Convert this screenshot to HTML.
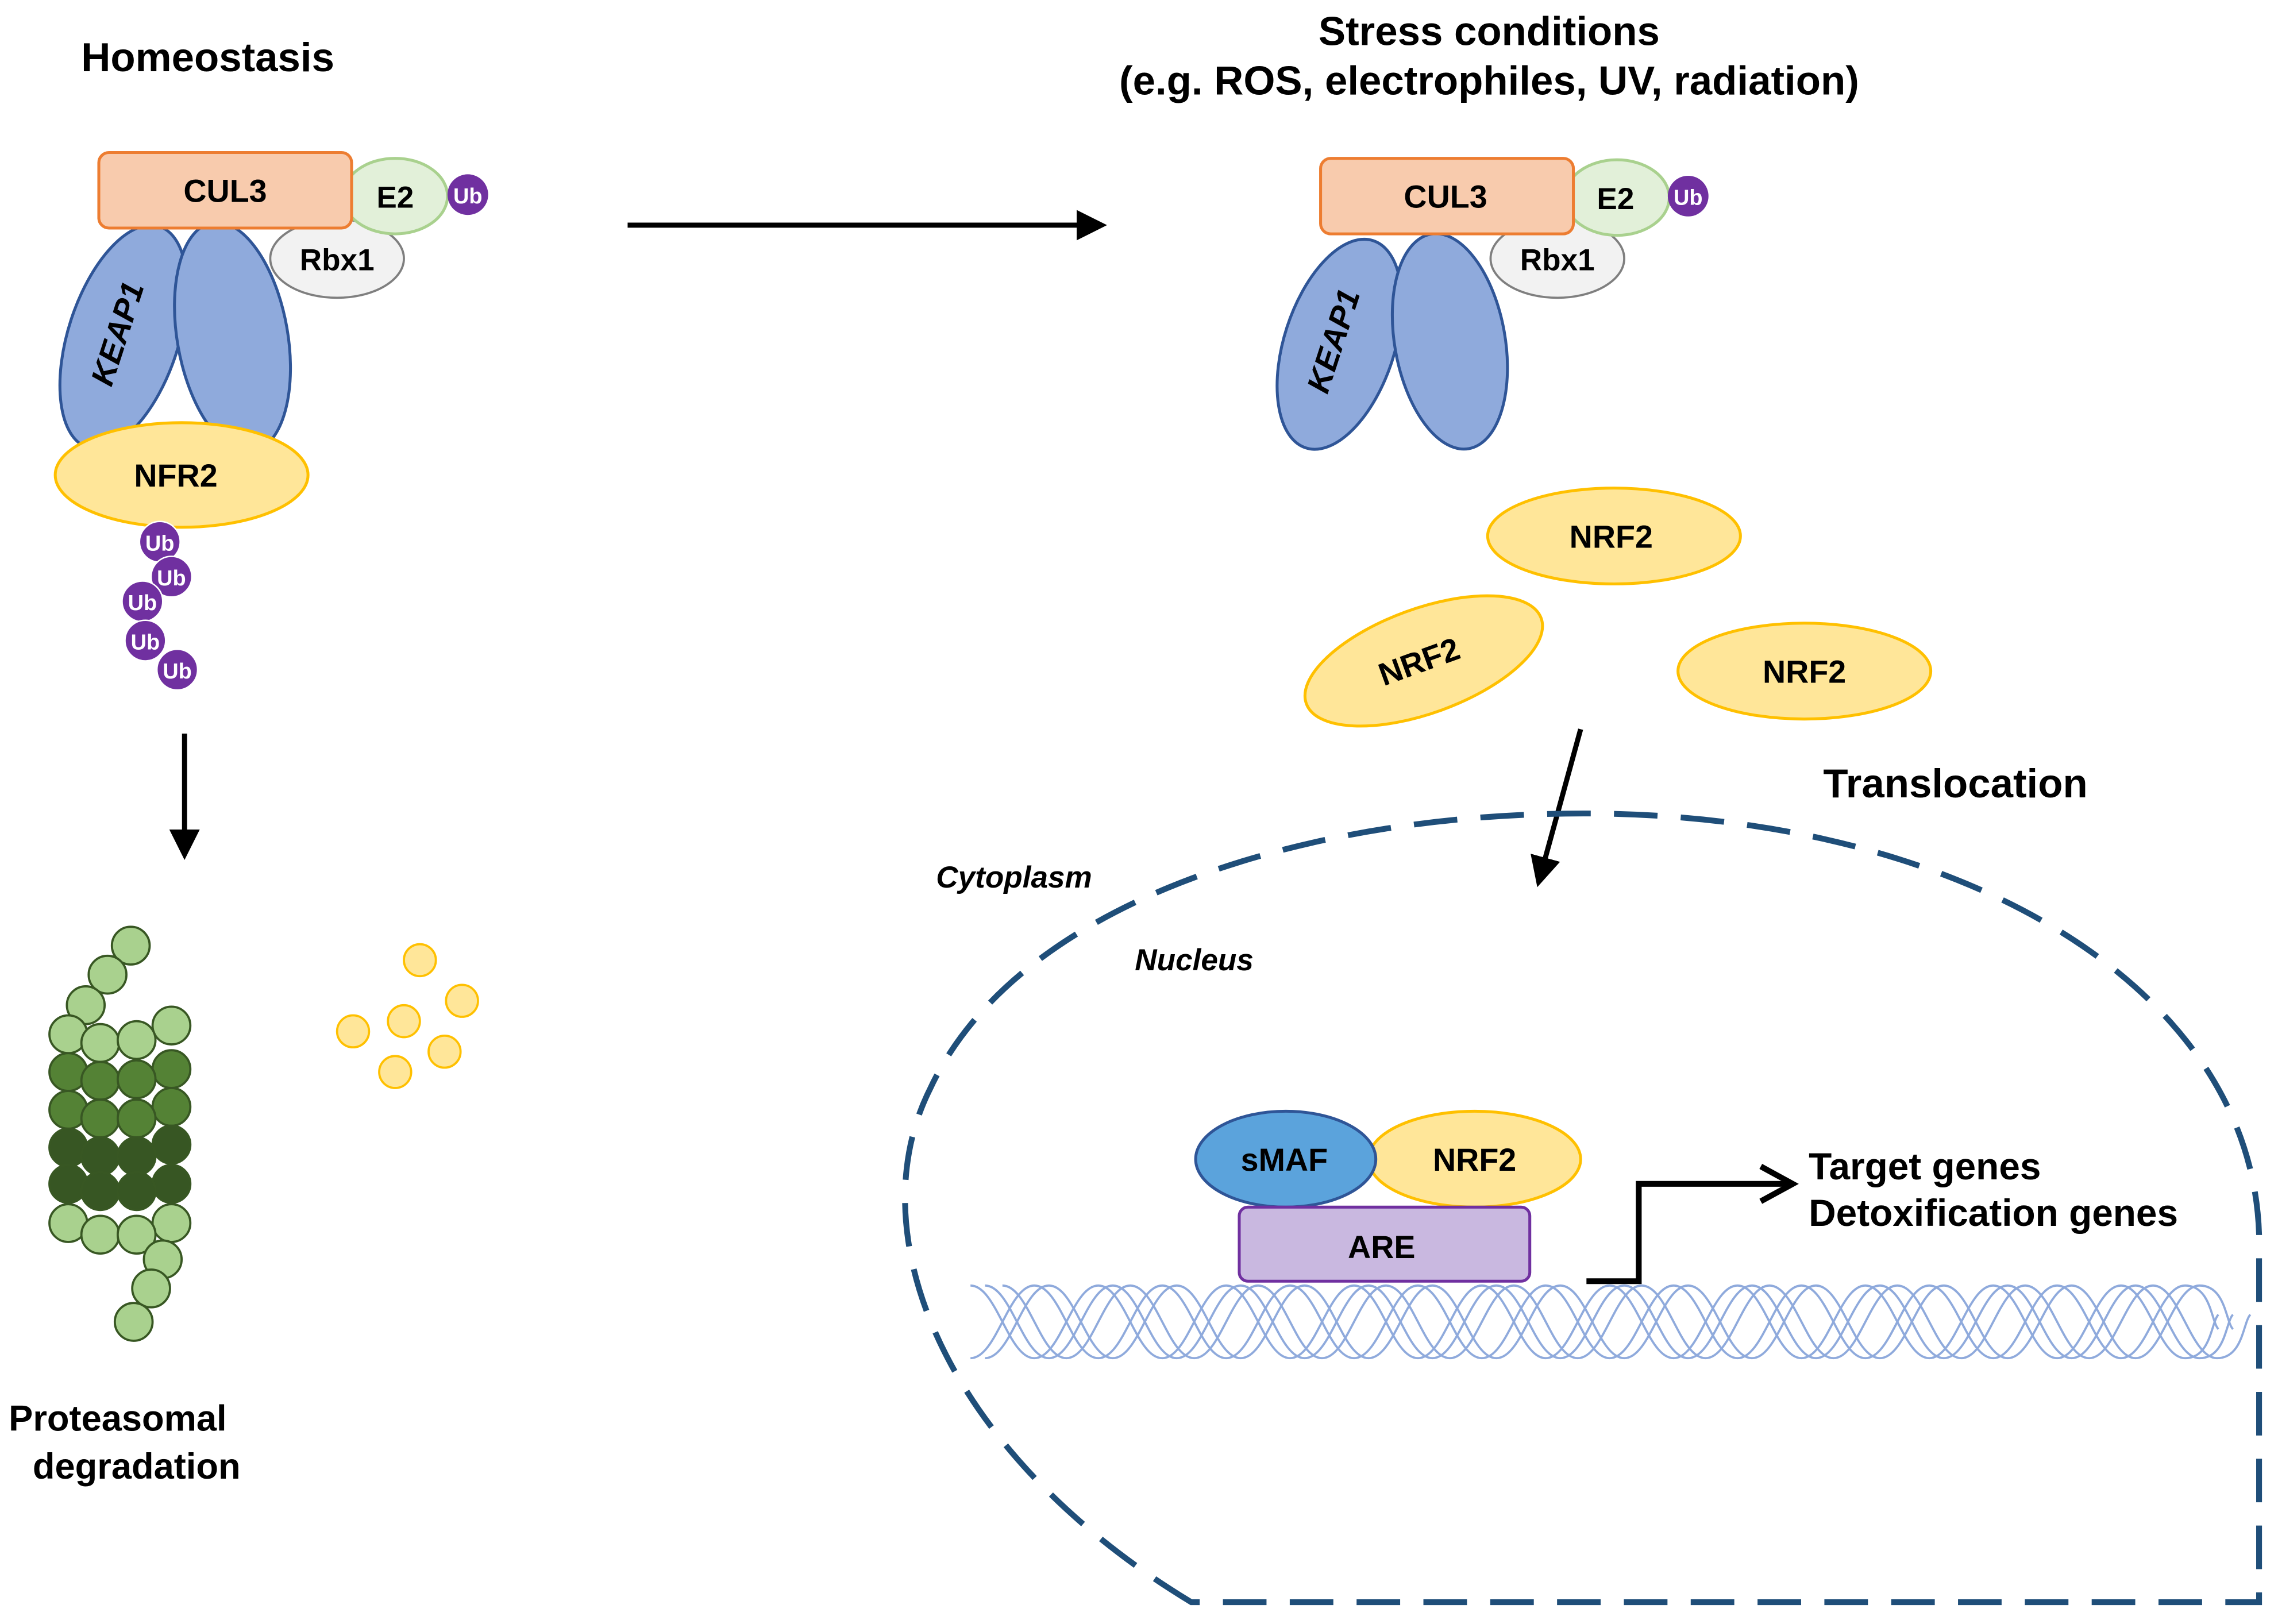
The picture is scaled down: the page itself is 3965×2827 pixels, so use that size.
<!DOCTYPE html>
<html><head><meta charset="utf-8"><style>
html,body{margin:0;padding:0;background:#fff;overflow:hidden;}
svg{display:block;}
text{font-family:"Liberation Sans",Arial,sans-serif;font-weight:bold;fill:#000;}
</style></head><body>
<svg width="3965" height="2827" viewBox="0 0 1568 1118" xmlns="http://www.w3.org/2000/svg">
<defs>
<marker id="ah" markerWidth="6" markerHeight="6" refX="4" refY="3" orient="auto" markerUnits="strokeWidth"><path d="M0,0 L6,3 L0,6 Z" fill="#000"/></marker>
<path id="strand" d="M668 885 C686 885 694 935 712 935 S738 885 756 885 S782 935 800 935 S826 885 844 885 S870 935 888 935 S914 885 932 885 S958 935 976 935 S1002 885 1020 885 S1046 935 1064 935 S1090 885 1108 885 S1134 935 1152 935 S1178 885 1196 885 S1222 935 1240 935 S1266 885 1284 885 S1310 935 1328 935 S1354 885 1372 885 S1398 935 1416 935 S1442 885 1460 885 S1486 935 1504 935 S1522 910 1527 905" fill="none" stroke="#8faadc" stroke-width="1.5"/>
</defs>
<text x="143" y="49" font-size="28" text-anchor="middle">Homeostasis</text>
<!-- left complex -->
<ellipse cx="85" cy="232" rx="38" ry="80" transform="rotate(18 85 232)" fill="#8faadc" stroke="#2f5597" stroke-width="2"/>
<ellipse cx="160" cy="232" rx="38" ry="80" transform="rotate(-10 160 232)" fill="#8faadc" stroke="#2f5597" stroke-width="2"/>
<text x="88" y="232" font-size="22" font-style="italic" text-anchor="middle" transform="rotate(-72 88 232)">KEAP1</text>
<ellipse cx="232" cy="178" rx="46" ry="27" fill="#f2f2f2" stroke="#7f7f7f" stroke-width="1.5"/>
<text x="232" y="186" font-size="21" text-anchor="middle">Rbx1</text>
<ellipse cx="272" cy="135" rx="36" ry="26" fill="#e2f0d9" stroke="#a9d18e" stroke-width="2"/>
<text x="272" y="143" font-size="21" text-anchor="middle">E2</text>
<rect x="68" y="105" width="174" height="52" rx="7" fill="#f8cbad" stroke="#ed7d31" stroke-width="2"/>
<text x="155" y="139" font-size="22" text-anchor="middle">CUL3</text>
<circle cx="322" cy="134" r="14" fill="#7030a0"/><text x="322" y="140" font-size="15" text-anchor="middle" style="fill:#fff">Ub</text>
<ellipse cx="125" cy="327" rx="87" ry="36" fill="#ffe699" stroke="#ffc000" stroke-width="2"/>
<text x="121" y="335" font-size="22" text-anchor="middle">NFR2</text>
<g font-size="15" text-anchor="middle">
<circle cx="110" cy="373" r="14" fill="#7030a0" stroke="#fff"/><text x="110" y="379" style="fill:#fff">Ub</text>
<circle cx="118" cy="397" r="14" fill="#7030a0" stroke="#fff"/><text x="118" y="403" style="fill:#fff">Ub</text>
<circle cx="98" cy="414" r="14" fill="#7030a0" stroke="#fff"/><text x="98" y="420" style="fill:#fff">Ub</text>
<circle cx="100" cy="441" r="14" fill="#7030a0" stroke="#fff"/><text x="100" y="447" style="fill:#fff">Ub</text>
<circle cx="122" cy="461" r="14" fill="#7030a0" stroke="#fff"/><text x="122" y="467" style="fill:#fff">Ub</text>
</g>
<line x1="127" y1="505" x2="127" y2="585" stroke="#000" stroke-width="3.5" marker-end="url(#ah)"/>
<!-- proteasome -->
<g stroke="#385723" stroke-width="1.5">
<circle cx="90" cy="651" r="13" fill="#a9d18e"/><circle cx="74" cy="671" r="13" fill="#a9d18e"/><circle cx="59" cy="692" r="13" fill="#a9d18e"/>
<circle cx="47" cy="712" r="13" fill="#a9d18e"/><circle cx="118" cy="706" r="13" fill="#a9d18e"/><circle cx="69" cy="718" r="13" fill="#a9d18e"/><circle cx="94" cy="716" r="13" fill="#a9d18e"/>
<circle cx="47" cy="738" r="13" fill="#548235"/><circle cx="118" cy="736" r="13" fill="#548235"/><circle cx="69" cy="744" r="13" fill="#548235"/><circle cx="94" cy="743" r="13" fill="#548235"/>
<circle cx="47" cy="764" r="13" fill="#548235"/><circle cx="118" cy="762" r="13" fill="#548235"/><circle cx="69" cy="770" r="13" fill="#548235"/><circle cx="94" cy="770" r="13" fill="#548235"/>
<circle cx="47" cy="790" r="13" fill="#375623"/><circle cx="118" cy="788" r="13" fill="#375623"/><circle cx="69" cy="796" r="13" fill="#375623"/><circle cx="94" cy="796" r="13" fill="#375623"/>
<circle cx="47" cy="815" r="13" fill="#375623"/><circle cx="118" cy="815" r="13" fill="#375623"/><circle cx="69" cy="820" r="13" fill="#375623"/><circle cx="94" cy="820" r="13" fill="#375623"/>
<circle cx="47" cy="842" r="13" fill="#a9d18e"/><circle cx="118" cy="842" r="13" fill="#a9d18e"/><circle cx="69" cy="850" r="13" fill="#a9d18e"/><circle cx="94" cy="850" r="13" fill="#a9d18e"/>
<circle cx="112" cy="867" r="13" fill="#a9d18e"/><circle cx="104" cy="887" r="13" fill="#a9d18e"/><circle cx="92" cy="910" r="13" fill="#a9d18e"/>
</g>
<g fill="#ffe699" stroke="#ffc000" stroke-width="1.5">
<circle cx="289" cy="661" r="11"/><circle cx="318" cy="689" r="11"/><circle cx="243" cy="710" r="11"/><circle cx="278" cy="703" r="11"/><circle cx="306" cy="724" r="11"/><circle cx="272" cy="738" r="11"/>
</g>
<text x="81" y="985" font-size="25" text-anchor="middle">Proteasomal</text>
<text x="94" y="1018" font-size="25" text-anchor="middle">degradation</text>
<line x1="432" y1="155" x2="755" y2="155" stroke="#000" stroke-width="3.5" marker-end="url(#ah)"/>
<text x="1025" y="31" font-size="28" text-anchor="middle">Stress conditions</text>
<text x="1025" y="65" font-size="28" text-anchor="middle">(e.g. ROS, electrophiles, UV, radiation)</text>
<!-- right complex -->
<ellipse cx="922" cy="237" rx="38" ry="75" transform="rotate(18 922 237)" fill="#8faadc" stroke="#2f5597" stroke-width="2"/>
<ellipse cx="998" cy="235" rx="38" ry="75" transform="rotate(-10 998 235)" fill="#8faadc" stroke="#2f5597" stroke-width="2"/>
<text x="925" y="237" font-size="22" font-style="italic" text-anchor="middle" transform="rotate(-72 925 237)">KEAP1</text>
<ellipse cx="1072" cy="178" rx="46" ry="27" fill="#f2f2f2" stroke="#7f7f7f" stroke-width="1.5"/>
<text x="1072" y="186" font-size="21" text-anchor="middle">Rbx1</text>
<ellipse cx="1113" cy="136" rx="36" ry="26" fill="#e2f0d9" stroke="#a9d18e" stroke-width="2"/>
<text x="1112" y="144" font-size="21" text-anchor="middle">E2</text>
<rect x="909" y="109" width="174" height="52" rx="7" fill="#f8cbad" stroke="#ed7d31" stroke-width="2"/>
<text x="995" y="143" font-size="22" text-anchor="middle">CUL3</text>
<circle cx="1162" cy="135" r="14" fill="#7030a0"/><text x="1162" y="141" font-size="15" text-anchor="middle" style="fill:#fff">Ub</text>
<ellipse cx="1111" cy="369" rx="87" ry="33" fill="#ffe699" stroke="#ffc000" stroke-width="2"/>
<text x="1109" y="377" font-size="22" text-anchor="middle">NRF2</text>
<ellipse cx="980" cy="455" rx="86" ry="36" transform="rotate(-20 980 455)" fill="#ffe699" stroke="#ffc000" stroke-width="2"/>
<text x="977" y="463" font-size="22" text-anchor="middle" transform="rotate(-20 977 456)">NRF2</text>
<ellipse cx="1242" cy="462" rx="87" ry="33" fill="#ffe699" stroke="#ffc000" stroke-width="2"/>
<text x="1242" y="470" font-size="22" text-anchor="middle">NRF2</text>
<line x1="1088" y1="502" x2="1060" y2="604" stroke="#000" stroke-width="3.5" marker-end="url(#ah)"/>
<text x="1346" y="549" font-size="28" text-anchor="middle">Translocation</text>
<path d="M820 1103 C650 1000 590 850 640 750 C700 620 900 560 1090 560 C1350 560 1550 680 1555 850 L1555 1103 Z" fill="none" stroke="#1f4e79" stroke-width="4" stroke-dasharray="30 16"/>
<text x="698" y="611" font-size="21" font-style="italic" text-anchor="middle">Cytoplasm</text>
<text x="822" y="668" font-size="21" font-style="italic" text-anchor="middle">Nucleus</text>
<!-- DNA -->
<use href="#strand"/>
<use href="#strand" transform="translate(10 0)"/>
<use href="#strand" transform="matrix(1 0 0 -1 0 1820)"/>
<use href="#strand" transform="matrix(1 0 0 -1 10 1820)"/>
<use href="#strand" transform="translate(22 0)"/>
<ellipse cx="1015" cy="798" rx="73" ry="33" fill="#ffe699" stroke="#ffc000" stroke-width="2"/>
<text x="1015" y="806" font-size="22" text-anchor="middle">NRF2</text>
<ellipse cx="885" cy="798" rx="62" ry="33" fill="#5ba3dc" stroke="#2f5597" stroke-width="2"/>
<text x="884" y="806" font-size="22" text-anchor="middle">sMAF</text>
<rect x="853" y="831" width="200" height="51" rx="6" fill="#c9b8e0" stroke="#7030a0" stroke-width="2"/>
<text x="951" y="866" font-size="22" text-anchor="middle">ARE</text>
<path d="M1092 882 L1128 882 L1128 815 L1230 815" fill="none" stroke="#000" stroke-width="4"/>
<path d="M1212 803 L1234 815 L1212 827" fill="none" stroke="#000" stroke-width="4"/>
<text x="1245" y="812" font-size="26">Target genes</text>
<text x="1245" y="844" font-size="26">Detoxification genes</text>
</svg>
</body></html>
